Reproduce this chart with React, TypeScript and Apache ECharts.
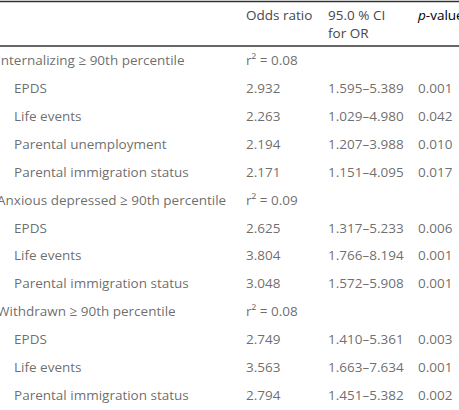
import React, { useEffect, useRef } from "react";
import * as echarts from "echarts";

const rowLabels = [
  "Internalizing ≥ 90th percentile",
  "EPDS",
  "Life events",
  "Parental unemployment",
  "Parental immigration status",
  "Anxious depressed ≥ 90th percentile",
  "EPDS",
  "Life events",
  "Parental immigration status",
  "Withdrawn ≥ 90th percentile",
  "EPDS",
  "Life events",
  "Parental immigration status",
];
const groupRows = [0, 5, 9];
const r2Values = [0.08, 0.09, 0.08];
const oddsRatios = [null, 2.932, 2.263, 2.194, 2.171, null, 2.625, 3.804, 3.048, null, 2.749, 3.563, 2.794];
const ciLower = [null, 1.595, 1.029, 1.207, 1.151, null, 1.317, 1.766, 1.572, null, 1.41, 1.663, 1.451];
const ciUpper = [null, 5.389, 4.98, 3.988, 4.095, null, 5.233, 8.194, 5.908, null, 5.361, 7.634, 5.382];
const pValues = [null, 0.001, 0.042, 0.01, 0.017, null, 0.006, 0.001, 0.001, null, 0.003, 0.001, 0.002];
const headerLabels = ["Odds ratio", "95.0 % CI", "for OR", "p-value"];

const W = 459;
const H = 410;
const FONT = "'Open Sans', 'Noto Sans', sans-serif";
const COLOR = "#474747";
const FS = 13.5;
const COL_LABEL = 14;
const COL_GROUP = 1;
const COL_OR = 246;
const COL_CI = 328;
const COL_P = 418;

export default function App() {
  const ref = useRef<HTMLDivElement>(null);

  useEffect(() => {
    document.body.style.margin = "0";
    const chart = echarts.init(ref.current!, null, { renderer: "svg" });

    const labelData = rowLabels.map((t, i) => {
      const isGroup = groupRows.includes(i);
      return {
        value: [isGroup ? COL_GROUP : COL_LABEL, i],
        name: t,
        label: isGroup ? { offset: [-4, 0] } : undefined,
      };
    });
    const orData: any[] = [];
    const ciData: any[] = [];
    const pData: any[] = [];
    rowLabels.forEach((_, i) => {
      const g = groupRows.indexOf(i);
      if (g >= 0) {
        orData.push({ value: [COL_OR, i], name: "r² = " + r2Values[g].toFixed(2) });
        return;
      }
      orData.push({ value: [COL_OR, i], name: (oddsRatios[i] as number).toFixed(3) });
      ciData.push({
        value: [COL_CI, i],
        name: (ciLower[i] as number).toFixed(3) + "–" + (ciUpper[i] as number).toFixed(3),
      });
      pData.push({ value: [COL_P, i], name: (pValues[i] as number).toFixed(3) });
    });

    const mkSeries = (data: any[]) => ({
      type: "scatter",
      data,
      symbolSize: 0.01,
      clip: false,
      silent: true,
      label: {
        show: true,
        position: "right",
        distance: 0,
        formatter: (p: any) => p.name,
        fontFamily: FONT,
        fontSize: FS,
        color: COLOR,
      },
    });

    chart.setOption({
      animation: false,
      backgroundColor: "#ffffff",
      grid: { left: 0, right: 0, top: 46, bottom: 1 },
      xAxis: { type: "value", min: 0, max: W, show: false },
      yAxis: {
        type: "category",
        inverse: true,
        data: rowLabels.map((_, i) => String(i)),
        show: false,
      },
      series: [mkSeries(labelData), mkSeries(orData), mkSeries(ciData), mkSeries(pData)],
      graphic: [
        { type: "line", shape: { x1: 0, y1: 1.5, x2: W, y2: 1.5 }, style: { stroke: "#333", lineWidth: 1.5 } },
        { type: "line", shape: { x1: 0, y1: 46, x2: W, y2: 46 }, style: { stroke: "#333", lineWidth: 1.3 } },
        {
          type: "text",
          x: COL_OR,
          y: 15,
          style: { text: headerLabels[0], font: `${FS}px ${FONT}`, fill: COLOR, verticalAlign: "middle" },
        },
        {
          type: "text",
          x: COL_CI,
          y: 15,
          style: { text: headerLabels[1], font: `${FS}px ${FONT}`, fill: COLOR, verticalAlign: "middle" },
        },
        {
          type: "text",
          x: COL_CI,
          y: 33,
          style: { text: headerLabels[2], font: `${FS}px ${FONT}`, fill: COLOR, verticalAlign: "middle" },
        },
        {
          type: "text",
          x: COL_P,
          y: 15,
          style: {
            text: "{i|p}{n|-value}",
            verticalAlign: "middle",
            rich: {
              i: { fontFamily: FONT, fontSize: FS, fontStyle: "italic", color: COLOR },
              n: { fontFamily: FONT, fontSize: FS, color: COLOR },
            },
          },
        },
      ],
    });

    return () => chart.dispose();
  }, []);

  return <div ref={ref} style={{ width: W, height: H }} />;
}
